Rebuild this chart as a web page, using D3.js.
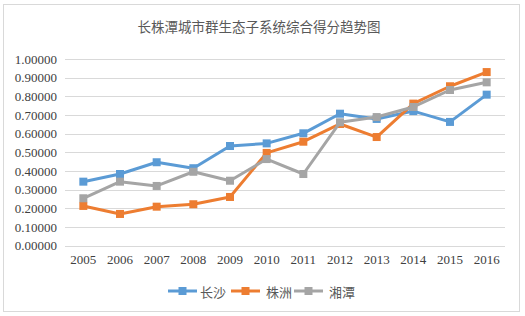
<!DOCTYPE html>
<html>
<head>
<meta charset="utf-8">
<script src="https://cdn.jsdelivr.net/npm/d3@7"></script>
<style>
  body { margin: 0; background: #fff; }
  svg text.num { font-family: "Times New Roman", "Liberation Serif", Tinos, "DejaVu Serif", serif; font-size: 13px; }
</style>
</head>
<body>
<svg id="chart" width="525" height="316"></svg>
<script>
// data
var years = ["2005", "2006", "2007", "2008", "2009", "2010", "2011", "2012", "2013", "2014", "2015", "2016"];
var changsha = [0.343, 0.384, 0.447, 0.415, 0.534, 0.548, 0.602, 0.707, 0.679, 0.721, 0.663, 0.809];
var zhuzhou = [0.213, 0.170, 0.209, 0.222, 0.261, 0.497, 0.557, 0.652, 0.582, 0.761, 0.854, 0.930];
var xiangtan = [0.254, 0.343, 0.320, 0.396, 0.348, 0.464, 0.384, 0.661, 0.689, 0.743, 0.834, 0.875];
var seriesNames = ["长沙", "株洲", "湘潭"];
var seriesColors = ["#5B9BD5", "#ED7D31", "#A5A5A5"];
var yTicks = [0, 0.1, 0.2, 0.3, 0.4, 0.5, 0.6, 0.7, 0.8, 0.9, 1.0];
var TITLE = "长株潭城市群生态子系统综合得分趋势图";

var CJK = "'Noto Sans CJK SC', sans-serif";
var series = [changsha, zhuzhou, xiangtan];

var svg = d3.select("#chart");

// outer frame
svg.append("rect")
    .attr("x", 3.5).attr("y", 4.5)
    .attr("width", 516).attr("height", 307)
    .attr("fill", "#fff")
    .attr("stroke", "#d9d9d9");

svg.append("text")
    .attr("x", 259).attr("y", 32)
    .attr("text-anchor", "middle")
    .style("font-family", CJK)
    .style("font-size", "13.5px")
    .style("fill", "#595959")
    .text(TITLE);

var x = d3.scaleBand().domain(years).range([65, 505]);
var y = d3.scaleLinear().domain([0, 1]).range([245.7, 59]);

// gridlines
svg.append("g")
    .selectAll("line")
    .data(yTicks)
    .enter()
    .append("line")
    .attr("x1", 65).attr("x2", 505)
    .attr("y1", function(d) { return Math.round(y(d)) + 0.5; })
    .attr("y2", function(d) { return Math.round(y(d)) + 0.5; })
    .attr("stroke", "#d9d9d9")
    .attr("stroke-width", 1);

var yAxis = d3.axisLeft(y)
    .tickValues(yTicks)
    .tickSize(0)
    .tickPadding(8)
    .tickFormat(d3.format(".5f"));
var yAxisGroup = svg.append("g")
    .attr("transform", "translate(65,0)")
    .call(yAxis);
yAxisGroup.select(".domain").remove();

var xAxis = d3.axisBottom(x).tickSize(0).tickPadding(9);
var xAxisGroup = svg.append("g")
    .attr("transform", "translate(0,245.7)")
    .call(xAxis);
xAxisGroup.select(".domain").remove();

[yAxisGroup, xAxisGroup].forEach(function(g) {
    g.attr("font-family", null).attr("font-size", null);
    g.selectAll("text")
        .attr("fill", "#404040")
        .classed("num", true);
});

var line = d3.line()
    .x(function(d, i) { return x(years[i]) + x.bandwidth() / 2; })
    .y(function(d) { return y(d); });

series.forEach(function(values, k) {
    var g = svg.append("g");
    g.append("path")
        .datum(values)
        .attr("d", line)
        .attr("fill", "none")
        .attr("stroke", seriesColors[k])
        .attr("stroke-width", 3)
        .attr("stroke-linejoin", "round")
        .attr("stroke-linecap", "round");
    g.selectAll("rect")
        .data(values)
        .enter()
        .append("rect")
        .attr("x", function(d, i) { return x(years[i]) + x.bandwidth() / 2 - 4; })
        .attr("y", function(d) { return y(d) - 4; })
        .attr("width", 8).attr("height", 8)
        .attr("fill", seriesColors[k]);
});

// legend
var legendX = [168, 231, 294];
var legend = svg.append("g")
    .selectAll("g")
    .data(seriesNames)
    .enter()
    .append("g")
    .attr("transform", function(d, i) { return "translate(" + legendX[i] + ",291)"; });
legend.append("line")
    .attr("x1", 0).attr("x2", 29)
    .attr("stroke", function(d, i) { return seriesColors[i]; })
    .attr("stroke-width", 3);
legend.append("rect")
    .attr("x", 10.5).attr("y", -4)
    .attr("width", 8).attr("height", 8)
    .attr("fill", function(d, i) { return seriesColors[i]; });
legend.append("text")
    .attr("x", function(d, i) { return i === 0 ? 32 : 35; })
    .attr("y", 0)
    .attr("dominant-baseline", "central")
    .style("font-family", CJK)
    .style("font-size", "13px")
    .style("fill", "#595959")
    .text(function(d) { return d; });
</script>
</body>
</html>
